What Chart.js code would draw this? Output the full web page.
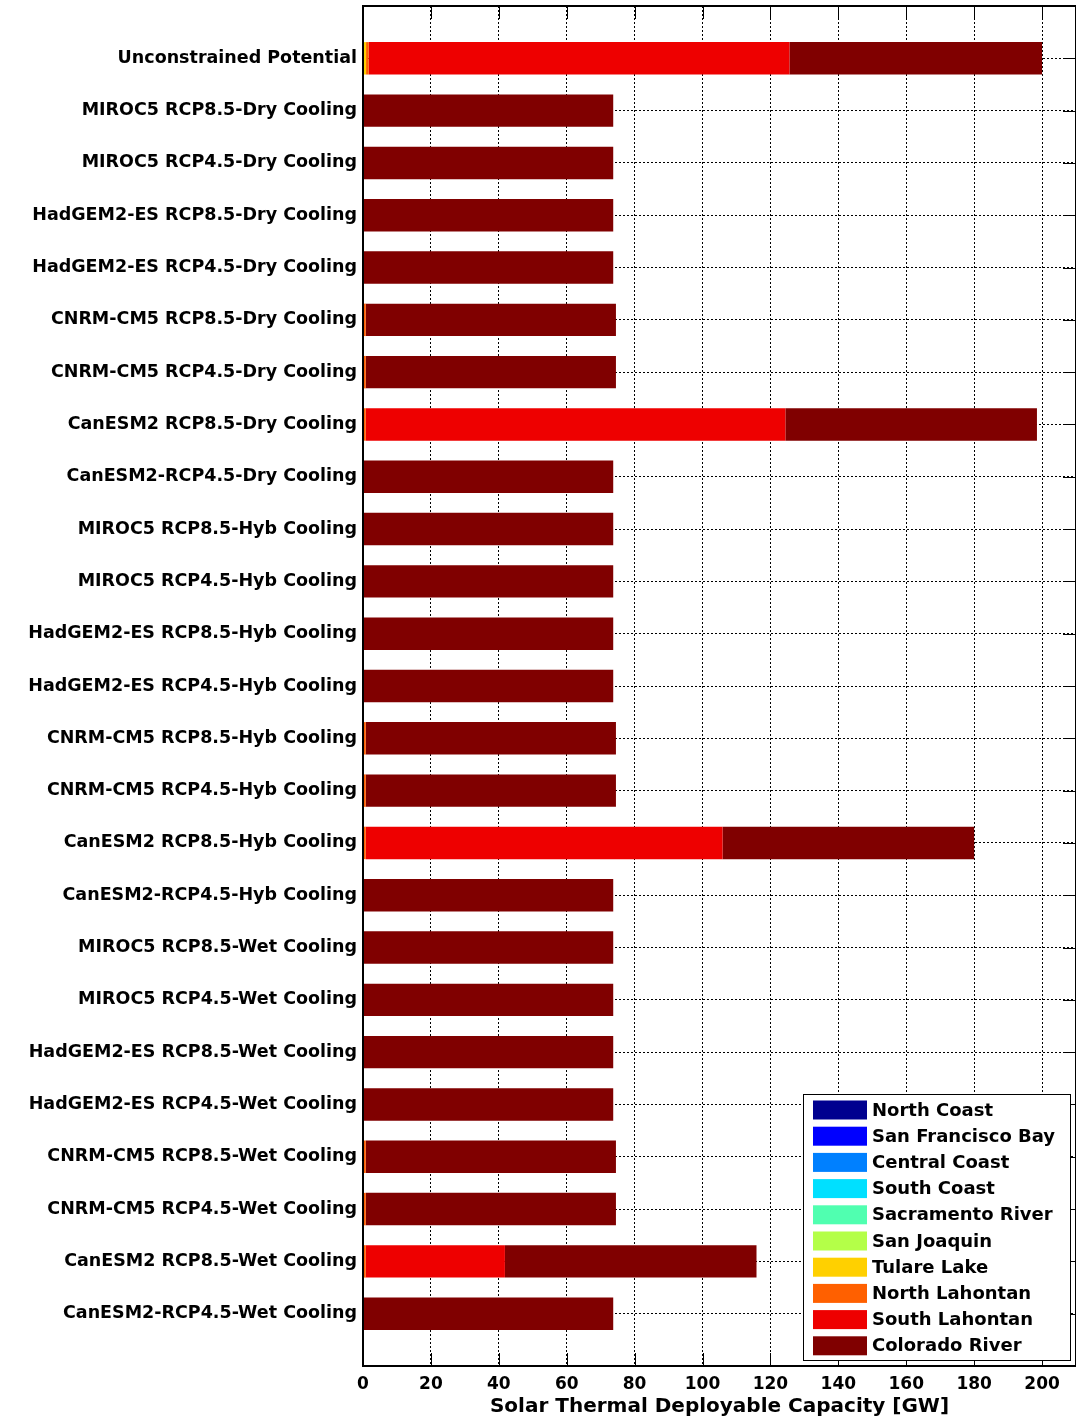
<!DOCTYPE html>
<html>
<head>
<meta charset="utf-8">
<script src="https://cdn.jsdelivr.net/npm/chart.js@4.4.1/dist/chart.umd.min.js"></script>
<style>
  html, body { margin: 0; padding: 0; background: #fff; }
  #wrap { position: relative; width: 1076px; height: 1420px; }
</style>
</head>
<body>
<div id="wrap"><canvas id="capacity"></canvas></div>
<script>
// scenario rows, top to bottom
const scenarios = [
  'Unconstrained Potential',
  'MIROC5 RCP8.5-Dry Cooling', 'MIROC5 RCP4.5-Dry Cooling',
  'HadGEM2-ES RCP8.5-Dry Cooling', 'HadGEM2-ES RCP4.5-Dry Cooling',
  'CNRM-CM5 RCP8.5-Dry Cooling', 'CNRM-CM5 RCP4.5-Dry Cooling',
  'CanESM2 RCP8.5-Dry Cooling', 'CanESM2-RCP4.5-Dry Cooling',
  'MIROC5 RCP8.5-Hyb Cooling', 'MIROC5 RCP4.5-Hyb Cooling',
  'HadGEM2-ES RCP8.5-Hyb Cooling', 'HadGEM2-ES RCP4.5-Hyb Cooling',
  'CNRM-CM5 RCP8.5-Hyb Cooling', 'CNRM-CM5 RCP4.5-Hyb Cooling',
  'CanESM2 RCP8.5-Hyb Cooling', 'CanESM2-RCP4.5-Hyb Cooling',
  'MIROC5 RCP8.5-Wet Cooling', 'MIROC5 RCP4.5-Wet Cooling',
  'HadGEM2-ES RCP8.5-Wet Cooling', 'HadGEM2-ES RCP4.5-Wet Cooling',
  'CNRM-CM5 RCP8.5-Wet Cooling', 'CNRM-CM5 RCP4.5-Wet Cooling',
  'CanESM2 RCP8.5-Wet Cooling', 'CanESM2-RCP4.5-Wet Cooling',
];

// x axis ticks [GW]
const xTicks = [0, 20, 40, 60, 80, 100, 120, 140, 160, 180, 200];

// hydrologic regions (stack order, left to right) and their jet colours
const regions = [
  'North Coast', 'San Francisco Bay', 'Central Coast', 'South Coast', 'Sacramento River',
  'San Joaquin', 'Tulare Lake', 'North Lahontan', 'South Lahontan', 'Colorado River',
];
const regionColors = [
  '#00008f', '#0000ff', '#0080ff', '#00e0ff', '#50ffb0',
  '#b4ff48', '#ffd000', '#ff6000', '#ee0000', '#800000',
];

// deployable capacity per scenario [GW]
const northCoast      = [0, 0, 0, 0, 0, 0, 0, 0, 0, 0, 0, 0, 0, 0, 0, 0, 0, 0, 0, 0, 0, 0, 0, 0, 0];
const sanFrancisco    = [0, 0, 0, 0, 0, 0, 0, 0, 0, 0, 0, 0, 0, 0, 0, 0, 0, 0, 0, 0, 0, 0, 0, 0, 0];
const centralCoast    = [0, 0, 0, 0, 0, 0, 0, 0, 0, 0, 0, 0, 0, 0, 0, 0, 0, 0, 0, 0, 0, 0, 0, 0, 0];
const southCoast      = [0.3, 0, 0, 0, 0, 0, 0, 0, 0, 0, 0, 0, 0, 0, 0, 0, 0, 0, 0, 0, 0, 0, 0, 0, 0];
const sacramento      = [0, 0, 0, 0, 0, 0, 0, 0, 0, 0, 0, 0, 0, 0, 0, 0, 0, 0, 0, 0, 0, 0, 0, 0, 0];
const sanJoaquin      = [0, 0, 0, 0, 0, 0, 0, 0, 0, 0, 0, 0, 0, 0, 0, 0, 0, 0, 0, 0, 0, 0, 0, 0, 0];
const tulareLake      = [0.6, 0, 0, 0, 0, 0, 0, 0, 0, 0, 0, 0, 0, 0, 0, 0, 0, 0, 0, 0, 0, 0, 0, 0, 0];
const northLahontan   = [0.8, 0, 0, 0, 0, 0.8, 0.8, 0.8, 0, 0, 0, 0, 0, 0.8, 0.8, 0.8, 0, 0, 0, 0, 0, 0.8, 0.8, 0.8, 0];
const southLahontan   = [123.9, 0, 0, 0, 0, 0, 0, 123.6, 0, 0, 0, 0, 0, 0, 0, 105.1, 0, 0, 0, 0, 0, 0, 0, 41.0, 0];
const coloradoRiver   = [74.4, 73.7, 73.7, 73.7, 73.7, 73.7, 73.7, 74.1, 73.7, 73.7, 73.7, 73.7, 73.7,
                         73.7, 73.7, 74.1, 73.7, 73.7, 73.7, 73.7, 73.7, 73.7, 73.7, 74.1, 73.7];

const regionValues = [
  northCoast, sanFrancisco, centralCoast, southCoast, sacramento,
  sanJoaquin, tulareLake, northLahontan, southLahontan, coloradoRiver,
];

const FONT = 'DejaVu Sans';

// box outline + inward MATLAB-style tick marks
const frameTicks = {
  id: 'frameTicks',
  afterDatasetsDraw(chart) {
    const { ctx, chartArea: a, scales: { x, y } } = chart;
    const len = 13;
    ctx.save();
    ctx.strokeStyle = '#000';
    ctx.lineWidth = 1;
    ctx.beginPath();
    x.ticks.forEach(t => {
      const px = Math.round(x.getPixelForValue(t.value)) + 0.5;
      ctx.moveTo(px, a.top); ctx.lineTo(px, a.top + len);
      ctx.moveTo(px, a.bottom); ctx.lineTo(px, a.bottom - len);
    });
    scenarios.forEach((_, i) => {
      const py = Math.round(y.getPixelForValue(i + 1)) + 0.5;
      ctx.moveTo(a.right, py); ctx.lineTo(a.right - len, py);
    });
    ctx.stroke();
    ctx.lineWidth = 2;
    ctx.strokeRect(a.left, a.top, a.right - a.left, a.bottom - a.top);
    ctx.restore();
  },
};

// legend box in the lower right corner of the axes
const boxLegend = {
  id: 'boxLegend',
  afterDraw(chart) {
    const { ctx, chartArea: a } = chart;
    const w = 267, h = 266, step = 26.2;
    const left = a.right - 273, top = a.bottom - 272;
    ctx.save();
    ctx.fillStyle = '#fff';
    ctx.fillRect(left, top, w, h);
    ctx.strokeStyle = '#000';
    ctx.lineWidth = 1;
    ctx.strokeRect(left + 0.5, top + 0.5, w, h);
    ctx.font = `bold 18px "${FONT}"`;
    ctx.textBaseline = 'middle';
    chart.data.datasets.forEach((ds, i) => {
      const cy = top + 16 + i * step;
      ctx.fillStyle = ds.backgroundColor;
      ctx.fillRect(left + 10, cy - 9.5, 54, 19);
      ctx.fillStyle = '#000';
      ctx.fillText(ds.label, left + 69, cy + 1);
    });
    ctx.restore();
  },
};

new Chart(document.getElementById('capacity'), {
  type: 'bar',
  plugins: [frameTicks, boxLegend],
  data: {
    datasets: regions.map((name, r) => ({
      label: name,
      data: regionValues[r].map((v, i) => ({ x: v, y: i + 1 })),
      backgroundColor: regionColors[r],
      borderWidth: 0,
      barPercentage: 0.62,
      categoryPercentage: 1,
    })),
  },
  options: {
    indexAxis: 'y',
    responsive: true,
    maintainAspectRatio: false,
    animation: false,
    layout: { padding: { top: 6, right: 0, bottom: 0, left: 0 } },
    plugins: { legend: { display: false }, tooltip: { enabled: false } },
    scales: {
      x: {
        type: 'linear', stacked: true, min: 0, max: 210,
        afterBuildTicks: s => { s.ticks = xTicks.map(v => ({ value: v })); },
        afterFit: s => { s.height = 54; s.paddingLeft = 0; s.paddingRight = 0; },
        ticks: { maxRotation: 0, padding: 8, color: '#000',
                 font: { family: FONT, size: 17, weight: 'bold' } },
        grid: { color: '#000', lineWidth: 1, drawTicks: false },
        border: { display: false, dash: [2, 2] },
        title: { display: true, text: 'Solar Thermal Deployable Capacity [GW]', color: '#000',
                 font: { family: FONT, size: 20, weight: 'bold' }, padding: { top: 0, bottom: 1 } },
      },
      y: {
        type: 'linear', stacked: true, reverse: true, min: 0, max: 26,
        offset: false,
        afterBuildTicks: s => { s.ticks = scenarios.map((_, i) => ({ value: i + 1 })); },
        afterFit: s => { s.width = 363; s.paddingTop = 0; s.paddingBottom = 0; },
        ticks: { autoSkip: false, padding: 6, color: '#000',
                 font: { family: FONT, size: 17.5, weight: 'bold' },
                 callback: v => scenarios[v - 1] || '' },
        grid: { color: '#000', lineWidth: 1, drawTicks: false, offset: false },
        border: { display: false, dash: [2, 2] },
      },
    },
  },
});
</script>
</body>
</html>
